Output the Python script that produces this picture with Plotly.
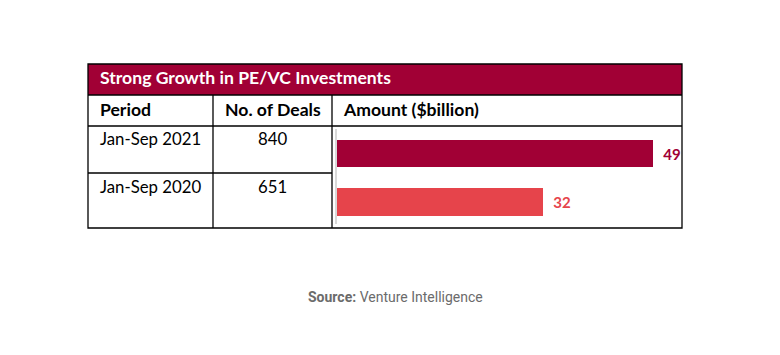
import plotly.graph_objects as go

title = "Strong Growth in PE/VC Investments"
headers = ["Period", "No. of Deals", "Amount ($billion)"]
periods = ["Jan-Sep 2021", "Jan-Sep 2020"]
deals = [840, 651]
amounts = [49, 32]
bar_colors = ["#A10035", "#E6444B"]
source_label = "Source:"
source_name = "Venture Intelligence"

W, H = 780, 355
OFF = 8  # page body margin
def px(x): return (x - OFF) / W
def py(y): return 1 - (y - OFF) / H

FONT = "Lato"
DARK = "#A10035"

# table geometry (pixels)
L, R, T, B = 88, 682, 64, 228
title_b, head_b, row_b = 95, 126, 173
c1, c2 = 213, 332

fig = go.Figure()
fig.add_trace(go.Bar(
    y=periods, x=amounts, orientation="h",
    marker=dict(color=bar_colors, line=dict(width=0)),
    width=0.57,
    text=[f"  {a}" for a in amounts], textposition="outside",
    textfont=dict(family=FONT, size=15, color=bar_colors, weight="bold"),
    cliponaxis=False, hoverinfo="skip",
))

shapes = []
shapes.append(dict(type="rect", xref="paper", yref="paper", x0=px(L), x1=px(R), y0=py(title_b), y1=py(T),
                   fillcolor=DARK, line=dict(width=0), layer="below"))
line = dict(color="black", width=1.3)
shapes.append(dict(type="rect", xref="paper", yref="paper", x0=px(L), x1=px(R), y0=py(B), y1=py(T), line=line))
for y in (title_b, head_b):
    shapes.append(dict(type="line", xref="paper", yref="paper", x0=px(L), x1=px(R), y0=py(y), y1=py(y), line=line))
shapes.append(dict(type="line", xref="paper", yref="paper", x0=px(L), x1=px(c2), y0=py(row_b), y1=py(row_b), line=line))
for x in (c1, c2):
    shapes.append(dict(type="line", xref="paper", yref="paper", x0=px(x), x1=px(x), y0=py(B), y1=py(title_b), line=line))

ann = []
ann.append(dict(text=f"<b>{title}</b>", xref="paper", yref="paper", x=px(98), y=py(78), xanchor="left", yanchor="middle",
                showarrow=False, font=dict(family=FONT, size=17.6, color="white")))
head_x = [(98, "left"), ((c1 + c2) / 2, "center"), (341, "left")]
for h, (x, a) in zip(headers, head_x):
    ann.append(dict(text=f"<b>{h}</b>", xref="paper", yref="paper", x=px(x), y=py(109), xanchor=a, yanchor="middle",
                    showarrow=False, font=dict(family=FONT, size=17.6, color="black")))
row_y = [139, 186]
for p, d, y in zip(periods, deals, row_y):
    ann.append(dict(text=p, xref="paper", yref="paper", x=px(98), y=py(y), xanchor="left", yanchor="middle",
                    showarrow=False, font=dict(family=FONT, size=16.8, color="black")))
    ann.append(dict(text=str(d), xref="paper", yref="paper", x=px((c1 + c2) / 2), y=py(y), xanchor="center", yanchor="middle",
                    showarrow=False, font=dict(family=FONT, size=16.8, color="black")))
ann.append(dict(text=f"<b>{source_label}</b> {source_name}", xref="paper", yref="paper", x=px(395), y=py(297),
                xanchor="center", yanchor="middle", showarrow=False,
                font=dict(family="Roboto", size=14, color="#6b6b6b")))

fig.update_layout(
    width=W, height=H, margin=dict(l=0, r=0, t=0, b=0),
    paper_bgcolor="white", plot_bgcolor="rgba(0,0,0,0)",
    showlegend=False, shapes=shapes, annotations=ann,
    bargap=0,
    xaxis=dict(domain=[px(337), px(682)], range=[0, 345 / 6.445], visible=False, fixedrange=True),
    yaxis=dict(domain=[py(224), py(129)], range=[1.454, -0.505], showticklabels=False, showgrid=False,
               zeroline=False, showline=True, linecolor="#D9D9D9", linewidth=1.5, ticks="", fixedrange=True),
)
fig.write_html("out.html", config={"displayModeBar": False})
